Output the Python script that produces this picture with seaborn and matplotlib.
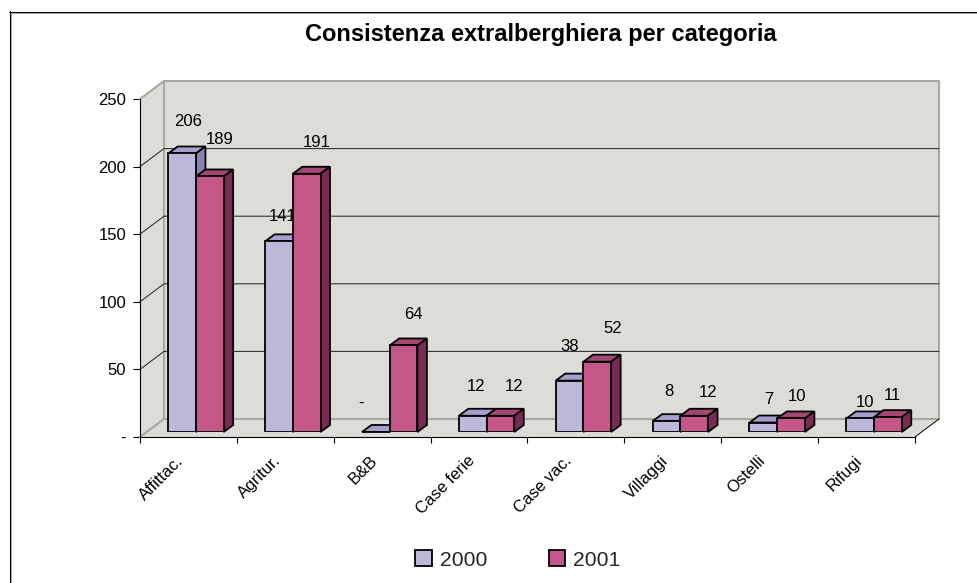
import seaborn as sns
import numpy as np
import matplotlib.pyplot as plt
import pandas as pd
from matplotlib.lines import Line2D
from matplotlib.patches import Patch, Polygon
from matplotlib.transforms import ScaledTranslation

#%% dati
categorie = ['Affittac.', 'Agritur.', 'B&B', 'Case ferie', 'Case vac.', 'Villaggi', 'Ostelli', 'Rifugi']
valori_2000 = [206, 141, 0, 12, 38, 8, 7, 10]
valori_2001 = [189, 191, 64, 12, 52, 12, 10, 11]
etichette_2000 = ['206', '141', '-', '12', '38', '8', '7', '10']
etichette_2001 = ['189', '191', '64', '12', '52', '12', '10', '11']
tick_y = [0, 50, 100, 150, 200, 250]
tick_y_label = ['-', '50', '100', '150', '200', '250']
anni = ['2000', '2001']

df = pd.DataFrame({
    'categoria': categorie * 2,
    'anno': ['2000'] * 8 + ['2001'] * 8,
    'valore': valori_2000 + valori_2001,
})

#%% stile
W, H = 978, 583
sns.set_theme(style='white')
plt.rcParams['font.family'] = ['Liberation Sans', 'DejaVu Sans']

colori = {'2000': '#BDB8D9', '2001': '#C35787'}
colori_top = {'2000': '#A79FCB', '2001': '#A44873'}
colori_lato = {'2000': '#8B82B4', '2001': '#7A2B55'}
muro = '#DDDCD8'
bordo_muro = '#A9A9A3'

# scostamento delle etichette dal centro-cima della barra (pixel)
off_2000 = [(6, 32), (4, 25), (-15, 29), (3, 29), (0, 34), (2, 30), (5, 23), (5, 16)]
off_2001 = [(10, 37), (10, 31), (10, 31), (14, 29), (15, 33), (14, 23), (6, 22), (4, 22)]


def px_box(x0, y_top, x1, y_bot):
    return [x0 / W, 1 - y_bot / H, (x1 - x0) / W, (y_bot - y_top) / H]


fig = plt.figure(figsize=(W / 100, H / 100), dpi=100)

# cornice (solo sopra e a sinistra)
for xs, ys, c in [([10.5, 10.5], [12, H], bordo_muro), ([10, W], [12.5, 12.5], bordo_muro),
                  ([9.5, 9.5], [11, H], 'black'), ([9, W], [11.5, 11.5], 'black')]:
    fig.add_artist(Line2D(np.array(xs) / W, 1 - np.array(ys) / H, color=c, lw=0.75))

#%% assi e pareti
ax = fig.add_axes(px_box(140, 99, 915, 437), facecolor='none')
ax.set_xlim(-0.5, 7.5)
ax.set_ylim(0, 250)
px_x = 8 / 775
px_y = 250 / 338
dx, dy = 24 * px_x, 18 * px_y
x0, x1 = -0.5, 7.5

ax.add_patch(Polygon([(x0, 0), (x0, 250), (x0 + dx, 250 + dy), (x1 + dx, 250 + dy), (x1 + dx, dy),
                      (x1, 0)], closed=True, fc=muro, ec='none', clip_on=False, zorder=0))
for xs, ys in [([x0, x0 + dx, x0 + dx], [250, 250 + dy, dy]),
               ([x0 + dx, x1 + dx, x1 + dx], [250 + dy, 250 + dy, dy]),
               ([x0, x0 + dx, x1 + dx], [0, dy, dy])]:
    ax.plot(xs, ys, color=bordo_muro, lw=1.5, clip_on=False, zorder=1)
ax.plot([x1, x1 + dx], [0, dy], color='black', lw=0.7, clip_on=False, zorder=1)
for v in tick_y[1:-1]:
    ax.plot([x0, x0 + dx, x1 + dx], [v, v + dy, v + dy], color='#2a2a2a', lw=0.75, clip_on=False, zorder=1)

sns.despine(ax=ax)
for s in ['left', 'bottom']:
    ax.spines[s].set_color('black')
    ax.spines[s].set_linewidth(0.8)
ax.set_yticks(tick_y, tick_y_label)
ax.set_xticks(np.arange(8), categorie)
ax.set_xticks(np.arange(-0.5, 8), minor=True)
ax.tick_params(axis='y', length=5, width=0.8, color='black', direction='out', left=True, labelsize=12, pad=5, labelcolor='black')
ax.tick_params(axis='x', which='minor', length=4.5, width=0.8, color='black', direction='out', bottom=True)
ax.tick_params(axis='x', which='major', length=0, labelsize=12, pad=14, labelcolor='black')
sposta = ScaledTranslation(-7 / 100, -2 / 100, fig.dpi_scale_trans)
for lab in ax.get_xticklabels():
    lab.set_rotation(45)
    lab.set_ha('right')
    lab.set_va('center')
    lab.set_rotation_mode('anchor')
    lab.set_transform(lab.get_transform() + sposta)

#%% barre
ax_b = fig.add_axes(px_box(147.5, 94, 922.5, 432), facecolor='none')
sns.barplot(data=df, x='categoria', y='valore', hue='anno', hue_order=anni, order=categorie,
            palette=colori, saturation=1, width=0.572, gap=0, edgecolor='black', linewidth=1.3,
            errorbar=None, legend=False, ax=ax_b)
ax_b.set_xlim(-0.5, 7.5)
ax_b.set_ylim(0, 250)
ax_b.axis('off')

bx, by = 9.5 * px_x, 7 * px_y
for i, (anno, cont) in enumerate(zip(anni, ax_b.containers)):
    etichette = etichette_2000 if i == 0 else etichette_2001
    offs = off_2000 if i == 0 else off_2001
    for bar, txt, off in zip(cont, etichette, offs):
        l, w, h = bar.get_x(), bar.get_width(), bar.get_height()
        bar.set_zorder(3 + 2 * i)
        bar.set_joinstyle('miter')
        top = Polygon([(l, h), (l + bx, h + by), (l + w + bx, h + by), (l + w, h)], closed=True,
                      fc=colori_top[anno], ec='black', lw=1.3, joinstyle='miter', zorder=2 + 2 * i, clip_on=False)
        ax_b.add_patch(top)
        if h > 0:
            lato = Polygon([(l + w, 0), (l + w + bx, by), (l + w + bx, h + by), (l + w, h)], closed=True,
                           fc=colori_lato[anno], ec='black', lw=1.3, joinstyle='miter', zorder=2 + 2 * i, clip_on=False)
            ax_b.add_patch(lato)
        ax_b.annotate(txt, (l + w / 2, h), xytext=off, textcoords='offset pixels', ha='center', va='center',
                      fontsize=12, color='black', zorder=2.5 + 2 * i, annotation_clip=False)

#%% titolo e legenda
fig.text(541 / W, 1 - 34 / H, 'Consistenza extralberghiera per categoria', ha='center', va='center',
         fontsize=17, fontweight='bold', color='black')
handles = [Patch(fc=colori[a], ec='black', lw=1.3) for a in anni]
fig.legend(handles, anni, ncol=2, loc='center left', bbox_to_anchor=(415 / W, 1 - 560 / H), frameon=False,
           fontsize=15.2, handlelength=0.8, handleheight=0.8, handletextpad=0.38, columnspacing=2.9,
           borderpad=0, borderaxespad=0)

plt.savefig('out.png', dpi=100)
